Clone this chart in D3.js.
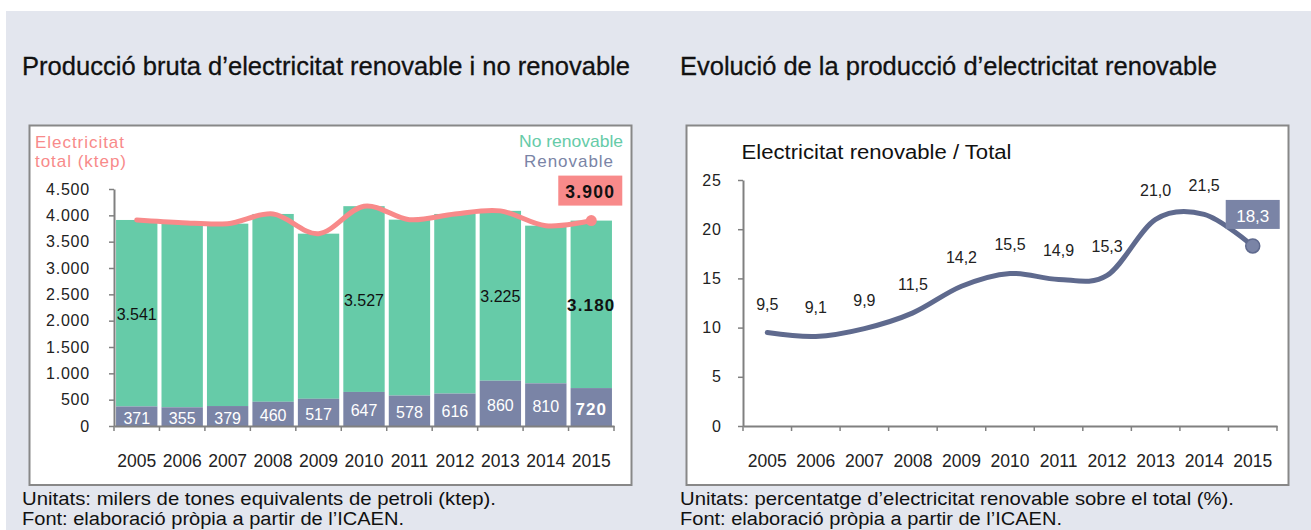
<!DOCTYPE html>
<html><head><meta charset="utf-8">
<script src="https://cdn.jsdelivr.net/npm/d3@7"></script>
<style>
body{margin:0;background:#fff}
svg{display:block}
text{font-family:'Liberation Sans',Arial,sans-serif}
.narrow{font-family:'Liberation Sans Narrow','Liberation Sans',Arial,sans-serif}
</style>
</head><body>
<svg id="c" width="1311" height="530"></svg>
<script>
// ---- data ----
const years = ["2005","2006","2007","2008","2009","2010","2011","2012","2013","2014","2015"];
const renovable = [371,355,379,460,517,647,578,616,860,810,720];
const noRenovable = [3541,3506,3463,3566,3135,3527,3340,3410,3225,2994,3180];
const totalElectricitat = [3912,3861,3842,4026,3652,4174,3918,4026,4085,3804,3900];
const noRenovableLabelYears = ["2005","2010","2013","2015"];
const shareRenovable = [9.5,9.1,9.9,11.5,14.2,15.5,14.9,15.3,21.0,21.5,18.3];
const leftTicks = [0,500,1000,1500,2000,2500,3000,3500,4000,4500];
const rightTicks = [0,5,10,15,20,25];

const loc = d3.formatLocale({decimal:",",thousands:".",grouping:[3],currency:["","€"]});
const fmtK = loc.format(",d");
const fmtP = loc.format(".1f");

const C_GREEN = "#66cba8", C_BLUE = "#7a84a6", C_PINK = "#f88a8a", C_LINE = "#5f6a8e", C_AXIS = "#808080";

const svg = d3.select("#c");
svg.append("rect").attr("x",6).attr("y",11).attr("width",1305).attr("height",519).attr("fill","#e3e6ee");

function txt(g, s, x, y, o){
  const t = g.append("text").attr("x",x).attr("y",y).text(s);
  Object.entries(o||{}).forEach(([k,v])=>t.attr(k,v));
  return t;
}

// titles
txt(svg,"Producció bruta d’electricitat renovable i no renovable",22,75,{class:"narrow","font-size":26,textLength:608,lengthAdjust:"spacingAndGlyphs",fill:"#111",stroke:"#111","stroke-width":0.3});
txt(svg,"Evolució de la producció d’electricitat renovable",680,75,{class:"narrow","font-size":26,textLength:537,lengthAdjust:"spacingAndGlyphs",fill:"#111",stroke:"#111","stroke-width":0.3});

// panels
svg.append("rect").attr("x",29.5).attr("y",125.5).attr("width",602).attr("height",359.5).attr("fill","#fff").attr("stroke","#888").attr("stroke-width",2);
svg.append("rect").attr("x",686.5).attr("y",125.5).attr("width",602).attr("height",359.5).attr("fill","#fff").attr("stroke","#888").attr("stroke-width",2);

// footnotes
txt(svg,"Unitats: milers de tones equivalents de petroli (ktep).",22,504.5,{class:"narrow","font-size":19,textLength:474,lengthAdjust:"spacingAndGlyphs",fill:"#111"});
txt(svg,"Font: elaboració pròpia a partir de l’ICAEN.",22,525,{class:"narrow","font-size":18,textLength:382,lengthAdjust:"spacingAndGlyphs",fill:"#111"});
txt(svg,"Unitats: percentatge d’electricitat renovable sobre el total (%).",680,504.5,{class:"narrow","font-size":19,textLength:554,lengthAdjust:"spacingAndGlyphs",fill:"#111"});
txt(svg,"Font: elaboració pròpia a partir de l’ICAEN.",680,525,{class:"narrow","font-size":18,textLength:382,lengthAdjust:"spacingAndGlyphs",fill:"#111"});

// ---------- LEFT CHART ----------
{
  const x = d3.scaleBand().domain(years).range([114,614]).padding(0);
  const y = d3.scaleLinear().domain([0,4500]).range([426,189]);
  const g = svg.append("g");
  const bw = x.bandwidth()*0.91, off = (x.bandwidth()-bw)/2;
  const data = years.map((yr,i)=>({yr,r:renovable[i],n:noRenovable[i]}));

  g.selectAll(".bn").data(data).join("rect")
    .attr("x",d=>x(d.yr)+off).attr("width",bw)
    .attr("y",d=>y(d.r+d.n)).attr("height",d=>y(d.r)-y(d.r+d.n)).attr("fill",C_GREEN);
  g.selectAll(".br").data(data).join("rect")
    .attr("x",d=>x(d.yr)+off).attr("width",bw)
    .attr("y",d=>y(d.r)).attr("height",d=>y(0)-y(d.r)).attr("fill",C_BLUE);

  // axes
  const ya = g.append("g").attr("transform",`translate(${x.range()[0]},0)`)
    .call(d3.axisLeft(y).tickValues(leftTicks).tickFormat(fmtK).tickSize(5).tickSizeOuter(0).tickPadding(19));
  ya.select(".domain").attr("stroke",C_AXIS).attr("stroke-width",2);
  ya.selectAll(".tick line").attr("stroke",C_AXIS).attr("stroke-width",1.5);
  ya.selectAll("text").attr("font-size",16).attr("fill","#222").attr("letter-spacing","0.8px").attr("font-family","'Liberation Sans',Arial,sans-serif");

  const xa = g.append("g").attr("transform",`translate(0,${y(0)})`)
    .call(d3.axisBottom(x).tickSize(0).tickSizeOuter(0));
  xa.select(".domain").attr("stroke",C_AXIS).attr("stroke-width",2);
  xa.selectAll("text").attr("y",41).attr("dy",0).attr("font-size",17.5).attr("fill","#222").attr("font-family","'Liberation Sans',Arial,sans-serif");
  g.selectAll(".xt").data(years.concat(["end"])).join("line")
    .attr("x1",d=>d==="end"?x.range()[1]:x(d)).attr("x2",d=>d==="end"?x.range()[1]:x(d))
    .attr("y1",y(0)).attr("y2",y(0)+5).attr("stroke",C_AXIS).attr("stroke-width",1.5);

  // bar labels
  g.selectAll(".lr").data(data).join("text")
    .attr("x",d=>x(d.yr)+x.bandwidth()/2).attr("y",d=>(y(0)+y(d.r))/2+7.5)
    .attr("text-anchor","middle").attr("fill","#fff")
    .attr("font-size",d=>d.yr==="2015"?17:16).attr("font-weight",d=>d.yr==="2015"?"bold":"normal")
    .attr("letter-spacing",d=>d.yr==="2015"?"1px":"0px")
    .text(d=>fmtK(d.r));
  g.selectAll(".ln").data(data.filter(d=>noRenovableLabelYears.includes(d.yr))).join("text")
    .attr("x",d=>x(d.yr)+x.bandwidth()/2).attr("y",d=>(y(d.r)+y(d.r+d.n))/2+6.5)
    .attr("text-anchor","middle").attr("fill","#111")
    .attr("font-size",d=>d.yr==="2015"?17:16).attr("font-weight",d=>d.yr==="2015"?"bold":"normal")
    .attr("letter-spacing",d=>d.yr==="2015"?"1.2px":"0px")
    .text(d=>fmtK(d.n));

  // total line
  const pts = years.map((yr,i)=>[x(yr)+x.bandwidth()/2, y(totalElectricitat[i])]);
  g.append("path").attr("d",d3.line().curve(d3.curveCardinal.tension(0))(pts))
    .attr("fill","none").attr("stroke",C_PINK).attr("stroke-width",5).attr("stroke-linecap","round");
  const last = pts[pts.length-1];
  g.append("circle").attr("cx",last[0]).attr("cy",last[1]).attr("r",5.5).attr("fill",C_PINK);
  g.append("rect").attr("x",last[0]-33).attr("y",last[1]-45).attr("width",64).attr("height",30).attr("fill",C_PINK);
  txt(g,fmtK(totalElectricitat[totalElectricitat.length-1]),last[0]-1,last[1]-22.5,{"text-anchor":"middle","font-size":17.5,"font-weight":"bold",fill:"#111","letter-spacing":"1.2px"});

  // legend texts
  txt(g,"Electricitat",35,148,{"font-size":17,fill:C_PINK,textLength:89,lengthAdjust:"spacing"});
  txt(g,"total (ktep)",35,167,{"font-size":17,fill:C_PINK,textLength:91,lengthAdjust:"spacing"});
  txt(g,"No renovable",623,147,{"font-size":17,fill:C_GREEN,"text-anchor":"end",textLength:104,lengthAdjust:"spacingAndGlyphs"});
  txt(g,"Renovable",613,167,{"font-size":17,fill:C_BLUE,"text-anchor":"end",textLength:89,lengthAdjust:"spacing"});
}

// ---------- RIGHT CHART ----------
{
  const x = d3.scaleBand().domain(years).range([743,1277]).padding(0);
  const y = d3.scaleLinear().domain([0,25]).range([426,180]);
  const g = svg.append("g");

  const ya = g.append("g").attr("transform",`translate(${x.range()[0]},0)`)
    .call(d3.axisLeft(y).tickValues(rightTicks).tickFormat(d3.format("d")).tickSize(5).tickSizeOuter(0).tickPadding(16));
  ya.select(".domain").attr("stroke",C_AXIS).attr("stroke-width",2);
  ya.selectAll(".tick line").attr("stroke",C_AXIS).attr("stroke-width",1.5);
  ya.selectAll("text").attr("font-size",16).attr("fill","#222").attr("letter-spacing","1px").attr("font-family","'Liberation Sans',Arial,sans-serif");

  const xa = g.append("g").attr("transform",`translate(0,${y(0)})`)
    .call(d3.axisBottom(x).tickSize(0).tickSizeOuter(0));
  xa.select(".domain").attr("stroke",C_AXIS).attr("stroke-width",2);
  xa.selectAll("text").attr("y",41).attr("dy",0).attr("font-size",17.5).attr("fill","#222").attr("font-family","'Liberation Sans',Arial,sans-serif");
  g.selectAll(".xt").data(years.concat(["end"])).join("line")
    .attr("x1",d=>d==="end"?x.range()[1]:x(d)).attr("x2",d=>d==="end"?x.range()[1]:x(d))
    .attr("y1",y(0)).attr("y2",y(0)+5).attr("stroke",C_AXIS).attr("stroke-width",1.5);

  txt(g,"Electricitat renovable / Total",741.5,159,{"font-size":20,fill:"#111",textLength:270,lengthAdjust:"spacingAndGlyphs"});

  const pts = years.map((yr,i)=>[x(yr)+x.bandwidth()/2, y(shareRenovable[i])]);
  g.append("path").attr("d",d3.line().curve(d3.curveCardinal.tension(0))(pts))
    .attr("fill","none").attr("stroke",C_LINE).attr("stroke-width",5).attr("stroke-linecap","round");
  const n = pts.length;
  g.selectAll(".pl").data(pts.slice(0,n-1)).join("text")
    .attr("x",d=>d[0]).attr("y",d=>d[1]-23).attr("text-anchor","middle")
    .attr("font-size",16).attr("fill","#222")
    .text((d,i)=>fmtP(shareRenovable[i]));
  const last = pts[n-1];
  g.append("circle").attr("cx",last[0]).attr("cy",last[1]).attr("r",7).attr("fill",C_BLUE).attr("stroke",C_LINE).attr("stroke-width",1.5);
  g.append("rect").attr("x",last[0]-27).attr("y",last[1]-46).attr("width",54).attr("height",29).attr("fill",C_BLUE);
  txt(g,fmtP(shareRenovable[n-1]),last[0],last[1]-24,{"text-anchor":"middle","font-size":17,fill:"#fff"});
}
</script>
</body></html>
